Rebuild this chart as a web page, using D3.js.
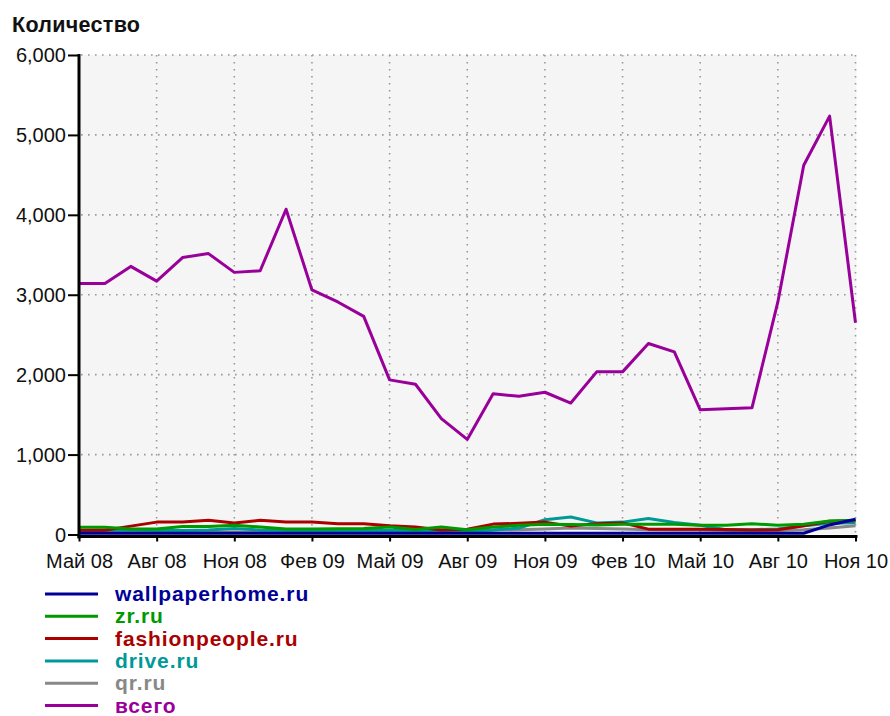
<!DOCTYPE html>
<html><head><meta charset="utf-8">
<script src="https://cdn.jsdelivr.net/npm/d3@7"></script>
<style>
html,body{margin:0;padding:0;background:#fff;}
svg{display:block;font-family:"Liberation Sans",Arial,sans-serif;}
</style></head>
<body><svg id="c" width="890" height="716"></svg>
<script>
const months = ["Май 08","Июн 08","Июл 08","Авг 08","Сен 08","Окт 08","Ноя 08","Дек 08","Янв 09","Фев 09","Мар 09","Апр 09","Май 09","Июн 09","Июл 09","Авг 09","Сен 09","Окт 09","Ноя 09","Дек 09","Янв 10","Фев 10","Мар 10","Апр 10","Май 10","Июн 10","Июл 10","Авг 10","Сен 10","Окт 10","Ноя 10"];
const tickIdx = [0,3,6,9,12,15,18,21,24,27,30];
const yTicks = [0,1000,2000,3000,4000,5000,6000];

const wallpaperhome = [15,15,15,15,15,15,15,15,15,15,15,15,15,15,15,15,15,15,15,15,15,15,15,15,15,15,15,15,15,120,190];
const zr = [90,90,70,70,100,100,115,94,70,70,72,75,95,63,94,60,94,115,128,125,120,128,128,128,115,115,136,115,128,170,178];
const fashionpeople = [52,52,105,155,155,178,145,178,157,157,135,135,110,94,55,65,130,140,155,105,136,145,67,67,67,62,55,60,110,165,172];
const drive = [50,55,55,50,50,55,75,55,50,50,50,50,50,50,50,45,55,80,185,220,145,155,200,150,115,60,60,70,110,140,148];
const qr = [30,30,30,30,30,30,30,30,30,30,30,30,30,30,30,30,55,60,70,80,75,70,60,55,55,50,50,50,60,80,110];
const vsego = [3140,3140,3355,3170,3465,3515,3280,3300,4070,3060,2910,2730,1935,1880,1450,1190,1760,1730,1780,1645,2035,2035,2390,2285,1560,1575,1585,2910,4620,5235,2650];

const seriesNames = ["wallpaperhome.ru","zr.ru","fashionpeople.ru","drive.ru","qr.ru","всего"];
const seriesColors = ["#000099","#009900","#aa0000","#009999","#888888","#990099"];
const seriesData = [wallpaperhome, zr, fashionpeople, drive, qr, vsego];
const title = "Количество";

const svg = d3.select("#c");
const L = 79, R = 855.5, T = 55, B = 534.5;
const x = d3.scaleLinear().domain([0, months.length-1]).range([L, R]);
const y = d3.scaleLinear().domain([0, 6000]).range([B, T]);

// background
svg.append("rect").attr("x", L).attr("y", T).attr("width", R - L + 1).attr("height", B - T).attr("fill", "#f5f5f5");

// grid
const grid = svg.append("g").attr("stroke", "#999").attr("stroke-width", 1.6).attr("stroke-dasharray", "1.6 5.4");
grid.selectAll("line.h").data(yTicks.filter(d => d > 0)).join("line")
  .attr("x1", L + 2).attr("x2", R + 1).attr("y1", d => y(d)).attr("y2", d => y(d));
grid.selectAll("line.v").data(tickIdx.filter(d => d > 0)).join("line")
  .attr("x1", d => x(d)).attr("x2", d => x(d)).attr("y1", T).attr("y2", B);

// lines
const line = d3.line().x((d, i) => x(i)).y(d => y(d));
const drawOrder = [4,3,2,1,0,5];
drawOrder.forEach(k => {
  svg.append("path").datum(seriesData[k]).attr("d", line)
    .attr("fill", "none").attr("stroke", seriesColors[k]).attr("stroke-width", 3)
    .attr("stroke-linejoin", "round");
});

// y axis
const yAxis = svg.append("g").attr("transform", `translate(${L},0)`)
  .call(d3.axisLeft(y).tickValues(yTicks).tickFormat(d3.format(",")).tickSize(11).tickPadding(2));
yAxis.select(".domain").remove();
yAxis.selectAll(".tick line").attr("stroke", "#000").attr("stroke-width", 2);
yAxis.selectAll(".tick text").attr("font-size", 20).attr("fill", "#111").attr("font-family", "Liberation Sans, Arial, sans-serif").attr("dy", "0.34em");
svg.append("line").attr("x1", L).attr("x2", L).attr("y1", T - 1).attr("y2", B + 4).attr("stroke", "#000").attr("stroke-width", 3);

// x axis
const xAxis = svg.append("g").attr("transform", `translate(0,${B + 2})`)
  .call(d3.axisBottom(x).tickValues(tickIdx).tickFormat(i => months[i]).tickSize(5).tickPadding(12));
xAxis.select(".domain").remove();
xAxis.selectAll(".tick line").attr("stroke", "#000").attr("stroke-width", 2);
xAxis.selectAll(".tick text").attr("font-size", 20).attr("fill", "#111").attr("font-family", "Liberation Sans, Arial, sans-serif");
svg.append("line").attr("x1", L - 1.5).attr("x2", R + 2).attr("y1", B + 2).attr("y2", B + 2).attr("stroke", "#000").attr("stroke-width", 3);

// title
svg.append("text").attr("x", 12).attr("y", 32).attr("font-size", 21.5).attr("font-weight", "bold").attr("letter-spacing", "0.3px").attr("fill", "#111").text(title);

// legend
const lg = svg.append("g");
seriesNames.forEach((n, k) => {
  const yy = 594 + k * 22.3;
  lg.append("line").attr("x1", 45).attr("x2", 98).attr("y1", yy).attr("y2", yy).attr("stroke", seriesColors[k]).attr("stroke-width", 3);
  lg.append("text").attr("x", 115).attr("y", yy + 7).attr("font-size", 21).attr("font-weight", "bold")
    .attr("letter-spacing", "0.9px").attr("fill", seriesColors[k]).text(n);
});
</script></body></html>
